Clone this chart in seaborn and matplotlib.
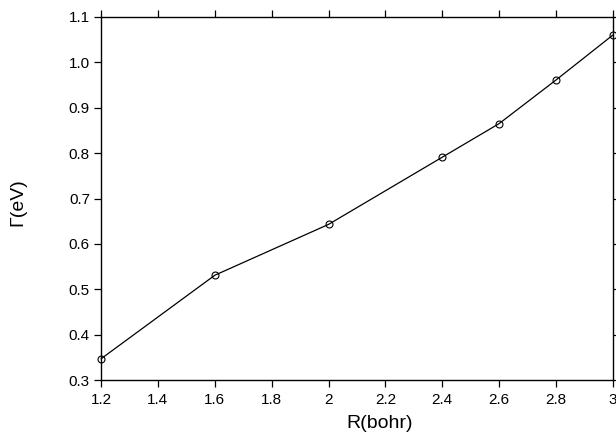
import matplotlib
matplotlib.use("Agg")
import matplotlib.pyplot as plt
import seaborn as sns
import pandas as pd

R = [1.2, 1.6, 2.0, 2.4, 2.6, 2.8, 3.0]
gamma = [0.347, 0.531, 0.643, 0.791, 0.865, 0.961, 1.060]
xticks = [1.2, 1.4, 1.6, 1.8, 2.0, 2.2, 2.4, 2.6, 2.8, 3.0]
xticklabels = ["1.2", "1.4", "1.6", "1.8", "2", "2.2", "2.4", "2.6", "2.8", "3"]
yticks = [0.3, 0.4, 0.5, 0.6, 0.7, 0.8, 0.9, 1.0, 1.1]
yticklabels = ["0.3", "0.4", "0.5", "0.6", "0.7", "0.8", "0.9", "1.0", "1.1"]

sns.set_theme(style="white")
plt.rcParams['font.family'] = ['Liberation Sans', 'DejaVu Sans']

df = pd.DataFrame({"R": R, "G": gamma})
fig = plt.figure(figsize=(6.16, 4.32), dpi=100)
ax = fig.add_axes([0.164, 0.120, 0.831, 0.841])

sns.lineplot(data=df, x="R", y="G", ax=ax, color="black", linewidth=0.9,
             marker="o", markersize=5, markerfacecolor="none",
             markeredgecolor="black", markeredgewidth=0.8, clip_on=False)

ax.set_xlim(1.2, 3.0)
ax.set_ylim(0.3, 1.1)
ax.set_xticks(xticks)
ax.set_xticklabels(xticklabels)
ax.set_yticks(yticks)
ax.set_yticklabels(yticklabels)
ax.tick_params(axis="both", direction="out", length=5, width=0.9, color="black",
               labelsize=11, labelcolor="black",
               top=True, right=True, bottom=True, left=True)
ax.tick_params(axis="x", top=True, labeltop=False, pad=4)
ax.tick_params(axis="y", right=True, labelright=False, pad=3)
for s in ax.spines.values():
    s.set_color("black")
    s.set_linewidth(1.0)

ax.set_xlabel("R(bohr)", fontsize=14, color="black")
ax.xaxis.set_label_coords(0.545, -0.095)
ax.set_ylabel("Γ(eV)", fontsize=14, color="black")
ax.yaxis.set_label_coords(-0.145, 0.49)

fig.savefig("out.png", dpi=100)
